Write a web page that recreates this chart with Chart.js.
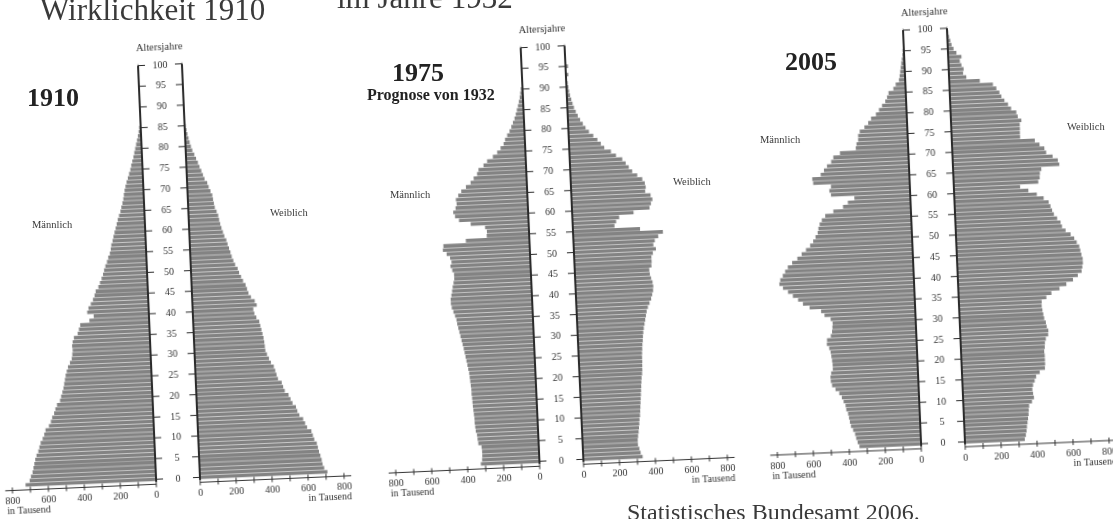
<!DOCTYPE html>
<html lang="de">
<head>
<meta charset="utf-8">
<title>Alterspyramiden 1910, 1975, 2005</title>
<script src="https://cdn.jsdelivr.net/npm/chart.js@4.4.1/dist/chart.umd.min.js"></script>
<style>
  html, body { margin: 0; padding: 0; background: #fff; }
  body { width: 1113px; height: 519px; position: relative; overflow: hidden; }
  .pyr { position: absolute; top: 0; width: 380px; height: 519px; }
  .txt { position: absolute; white-space: nowrap; font-family: "Liberation Serif", "DejaVu Serif", serif; color: #3a3a3a; line-height: 1; }
</style>
</head>
<body>
<script>
// ---- data (thousands, index = age in years) ----
const m1910 = [
  724, 700, 692, 682, 676, 670, 664, 656, 645, 638,
  630, 618, 608, 600, 580, 568, 560, 548, 540, 530,
  512, 505, 497, 490, 485, 480, 475, 468, 460, 448,
  437, 433, 430, 432, 428, 420, 398, 390, 382, 330,
  305, 340, 332, 318, 305, 295, 288, 272, 262, 252,
  243, 236, 228, 218, 210, 200, 194, 190, 182, 176,
  169, 162, 155, 148, 140, 131, 125, 118, 112, 108,
  103, 97, 90, 82, 74, 66, 60, 53, 46, 40,
  34, 28, 22, 16, 11, 7, 0, 0, 0, 0,
  0, 0, 0, 0, 0, 0, 0, 0, 0, 0,
  0
];
const f1910 = [
  707, 690, 682, 678, 672, 665, 660, 655, 642, 635,
  628, 605, 595, 585, 565, 555, 548, 530, 520, 510,
  490, 482, 475, 455, 448, 442, 435, 420, 410, 400,
  392, 390, 388, 385, 380, 375, 370, 365, 350, 340,
  335, 355, 345, 325, 312, 305, 298, 285, 275, 265,
  258, 245, 236, 228, 222, 215, 208, 202, 192, 185,
  178, 172, 167, 163, 155, 146, 142, 138, 135, 126,
  117, 110, 96, 88, 80, 71, 63, 54, 45, 35,
  28, 22, 17, 12, 8, 5, 3, 0, 0, 0,
  0, 0, 0, 0, 0, 0, 0, 0, 0, 0,
  0
];
const m1975 = [
  324, 316, 314, 314, 316, 333, 336, 338, 344, 346,
  348, 348, 350, 352, 354, 355, 356, 358, 358, 360,
  362, 364, 366, 370, 374, 378, 382, 386, 390, 395,
  400, 405, 410, 415, 420, 423, 430, 438, 446, 450,
  450, 445, 440, 436, 430, 425, 425, 434, 443, 436,
  443, 461, 481, 477, 351, 234, 232, 241, 320, 384,
  405, 414, 400, 393, 396, 382, 364, 337, 310, 292,
  272, 263, 234, 213, 180, 155, 135, 117, 108, 95,
  81, 70, 60, 50, 42, 35, 28, 22, 16, 12,
  8, 0, 0, 0, 0, 0, 0, 0, 0, 0,
  0
];
const f1975 = [
  328, 318, 312, 305, 305, 308, 312, 315, 318, 320,
  324, 326, 328, 330, 332, 334, 336, 338, 340, 342,
  346, 348, 349, 350, 350, 351, 353, 355, 358, 360,
  363, 367, 372, 377, 382, 387, 395, 405, 415, 422,
  428, 430, 427, 420, 414, 412, 425, 427, 427, 436,
  454, 441, 450, 470, 497, 371, 230, 240, 258, 339,
  429, 438, 447, 438, 409, 413, 409, 396, 369, 342,
  324, 308, 290, 256, 229, 193, 175, 157, 135, 112,
  94, 80, 66, 54, 44, 35, 28, 22, 16, 12,
  9, 6, 0, 12, 0, 12, 0, 0, 0, 0,
  0
];
const m2005 = [
  341, 350, 357, 362, 372, 383, 388, 392, 396, 405,
  408, 418, 427, 440, 460, 478, 484, 485, 480, 470,
  470, 472, 475, 478, 485, 497, 495, 473, 465, 462,
  460, 470, 503, 521, 584, 620, 646, 674, 700, 727,
  746, 740, 725, 711, 695, 670, 640, 615, 590, 566,
  548, 534, 521, 516, 508, 495, 475, 429, 374, 346,
  309, 438, 446, 436, 534, 538, 490, 471, 453, 429,
  416, 378, 289, 284, 274, 273, 263, 236, 214, 197,
  169, 151, 133, 114, 103, 94, 66, 52, 33, 28,
  24, 20, 16, 12, 8, 6, 0, 0, 0, 0,
  0
];
const f2005 = [
  331, 338, 343, 346, 350, 354, 358, 360, 363, 380,
  392, 388, 385, 390, 400, 409, 430, 460, 462, 462,
  462, 460, 464, 466, 472, 486, 488, 480, 476, 468,
  464, 460, 457, 458, 485, 514, 560, 599, 637, 665,
  687, 692, 696, 696, 690, 685, 680, 667, 654, 635,
  608, 589, 582, 564, 547, 538, 530, 521, 494, 457,
  411, 366, 468, 477, 479, 488, 589, 582, 554, 519,
  510, 484, 459, 378, 378, 379, 379, 389, 370, 363,
  335, 319, 300, 284, 274, 258, 240, 168, 94, 77,
  81, 70, 62, 72, 45, 30, 20, 14, 8, 5,
  0
];
const ages = m1910.map((_, i) => i);
const ageTicks = [0, 5, 10, 15, 20, 25, 30, 35, 40, 45, 50, 55, 60, 65, 70, 75, 80, 85, 90, 95, 100];
const axisTicks = [0, 100, 200, 300, 400, 500, 600, 700, 800];
const axisLabels = [0, 200, 400, 600, 800];

// ---- layout ----
const GAP = 122;          // half width of the age column, in data units
const AXIS_END = 840;     // axis line runs a bit past 800
const PX_PER_UNIT = 0.18;
const PX_PER_YEAR = 4.14;
const AGE_MIN = -1.2, AGE_MAX = 101;
const X_AXIS_H = 22;
const W = 380, H = 519;
const SERIF = '"Liberation Serif", "DejaVu Serif", serif';
const INK = '#333';

const pyramids = [
  { male: m1910, female: f1910, cx: 169, cy: 271.5, tilt: 2.5 },
  { male: m1975, female: f1975, cx: 552, cy: 253.5, tilt: 2.6 },
  { male: m2005, female: f2005, cx: 934, cy: 236, tilt: 2.5 }
];

const pyramidFrame = {
  id: 'pyramidFrame',
  afterDatasetsDraw(chart) {
    const { ctx, scales: { x, y } } = chart;
    const xl = x.getPixelForValue(-GAP), xr = x.getPixelForValue(GAP), xc = x.getPixelForValue(0);
    const top = y.getPixelForValue(100), foot = y.getPixelForValue(-0.6);
    const axisY = y.getPixelForValue(AGE_MIN);
    const seg = (x1, y1, x2, y2) => { ctx.beginPath(); ctx.moveTo(x1, y1); ctx.lineTo(x2, y2); ctx.stroke(); };
    ctx.save();
    ctx.strokeStyle = '#2a2a2a';
    ctx.lineWidth = 2;
    seg(xl, top, xl, foot);
    seg(xr, top, xr, foot);
    ctx.lineWidth = 1;
    ctx.fillStyle = INK;
    ctx.font = '10px ' + SERIF;
    ctx.textAlign = 'center';
    ctx.textBaseline = 'middle';
    ageTicks.forEach(a => {
      const py = y.getPixelForValue(a);
      seg(xl, py, xl + 7, py);
      seg(xr - 7, py, xr, py);
      ctx.fillText(String(a), xc, py + 0.5);
    });
    ctx.font = '10.5px ' + SERIF;
    ctx.fillText('Altersjahre', xc, top - 17);
    // bottom axes, one for each side
    ctx.strokeStyle = '#333';
    seg(x.getPixelForValue(-GAP - AXIS_END), axisY, xl, axisY);
    seg(xr, axisY, x.getPixelForValue(GAP + AXIS_END), axisY);
    x.ticks.forEach(t => {
      const px = x.getPixelForValue(t.value);
      seg(px, axisY - 3, px, axisY + 3);
    });
    ctx.font = '10px ' + SERIF;
    ctx.textAlign = 'left';
    ctx.fillText('in Tausend', x.getPixelForValue(-GAP - 800) - 6, axisY + 21);
    ctx.textAlign = 'right';
    ctx.fillText('in Tausend', x.getPixelForValue(GAP + 800) + 7, axisY + 21);
    ctx.restore();
  }
};

function drawPyramid(p) {
  const wrap = document.createElement('div');
  wrap.className = 'pyr';
  wrap.style.left = (p.cx - W / 2) + 'px';
  wrap.style.transformOrigin = (W / 2) + 'px ' + p.cy + 'px';
  wrap.style.transform = 'rotate(' + (-p.tilt) + 'deg)';
  const canvas = document.createElement('canvas');
  canvas.width = W;
  canvas.height = H;
  wrap.appendChild(canvas);
  document.body.appendChild(wrap);

  const half = GAP + AXIS_END;
  const side = W / 2 - half * PX_PER_UNIT;
  const padTop = p.cy - (AGE_MAX - 50) * PX_PER_YEAR;
  const padBottom = H - (p.cy + (50 - AGE_MIN) * PX_PER_YEAR) - X_AXIS_H;
  const xTickValues = axisTicks.map(t => -GAP - t).concat(axisTicks.map(t => GAP + t)).sort((a, b) => a - b);

  const bar = {
    backgroundColor: '#838383',
    borderWidth: 0,
    barThickness: 3,
    grouped: false
  };

  new Chart(canvas, {
    type: 'bar',
    data: {
      datasets: [
        Object.assign({ label: 'Männlich', data: ages.map(a => ({ y: a, x: [-GAP, -GAP - p.male[a]] })) }, bar),
        Object.assign({ label: 'Weiblich', data: ages.map(a => ({ y: a, x: [GAP, GAP + p.female[a]] })) }, bar)
      ]
    },
    options: {
      indexAxis: 'y',
      responsive: false,
      animation: false,
      devicePixelRatio: 1,
      layout: { padding: { left: side, right: side, top: padTop, bottom: padBottom } },
      plugins: { legend: { display: false }, tooltip: { enabled: false } },
      scales: {
        y: { type: 'linear', min: AGE_MIN, max: AGE_MAX, offset: false, display: false },
        x: {
          type: 'linear',
          min: -half,
          max: half,
          offset: false,
          border: { display: false },
          grid: { display: false, drawTicks: false },
          afterBuildTicks: s => { s.ticks = xTickValues.map(v => ({ value: v })); },
          afterFit: s => { s.height = X_AXIS_H; },
          ticks: {
            autoSkip: false,
            maxRotation: 0,
            minRotation: 0,
            padding: 5,
            color: INK,
            font: { family: SERIF, size: 10 },
            callback: v => {
              const t = Math.round(Math.abs(v) - GAP);
              return axisLabels.includes(t) ? String(t) : '';
            }
          }
        }
      }
    },
    plugins: [pyramidFrame]
  });
}

pyramids.forEach(drawPyramid);

// ---- free text from the page ----
const texts = [
  { t: 'Wirklichkeit 1910', x: 40, base: 20, size: 31 },
  { t: 'im Jahre 1932', x: 337, base: 8, size: 31 },
  { t: 'Statistisches Bundesamt 2006.', x: 627, base: 520, size: 24 },
  { t: '1910', x: 27, base: 107, size: 26, bold: true },
  { t: '1975', x: 392, base: 82, size: 26, bold: true },
  { t: 'Prognose von 1932', x: 367, base: 100, size: 16, bold: true },
  { t: '2005', x: 785, base: 71, size: 26, bold: true },
  { t: 'Männlich', x: 32, base: 229, size: 10.5 },
  { t: 'Weiblich', x: 270, base: 217, size: 10.5 },
  { t: 'Männlich', x: 390, base: 199, size: 10.5 },
  { t: 'Weiblich', x: 673, base: 186, size: 10.5 },
  { t: 'Männlich', x: 760, base: 144, size: 10.5 },
  { t: 'Weiblich', x: 1067, base: 131, size: 10.5 }
];
texts.forEach(d => {
  const el = document.createElement('div');
  el.className = 'txt';
  el.textContent = d.t;
  el.style.left = d.x + 'px';
  el.style.top = (d.base - 0.837 * d.size) + 'px';
  el.style.fontSize = d.size + 'px';
  if (d.bold) { el.style.fontWeight = 'bold'; el.style.color = '#222'; }
  document.body.appendChild(el);
});
</script>
</body>
</html>
